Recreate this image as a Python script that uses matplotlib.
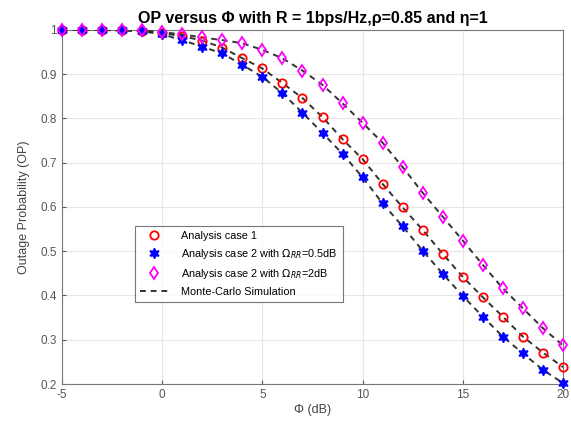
import matplotlib
matplotlib.use("Agg")
import matplotlib.pyplot as plt

plt.rcParams["font.family"] = ["Liberation Sans", "DejaVu Sans"]
plt.rcParams["axes.unicode_minus"] = False

# SNR grid (dB)
phi_db = list(range(-5, 21))

# Analysis case 1
op_case1 = [1.0, 1.0, 1.0, 0.999, 0.998, 0.993, 0.986, 0.976, 0.960, 0.936,
            0.913, 0.880, 0.846, 0.803, 0.753, 0.708, 0.652, 0.599, 0.548,
            0.494, 0.442, 0.396, 0.352, 0.307, 0.271, 0.238]
# Analysis case 2 with Omega_RR = 0.5 dB
op_case2_05 = [1.0, 1.0, 1.0, 0.999, 0.997, 0.990, 0.977, 0.962, 0.947,
               0.921, 0.894, 0.857, 0.813, 0.767, 0.720, 0.667, 0.608, 0.556,
               0.501, 0.449, 0.399, 0.352, 0.307, 0.269, 0.232, 0.202]
# Analysis case 2 with Omega_RR = 2 dB
op_case2_2 = [1.0, 1.0, 1.0, 1.0, 0.999, 0.995, 0.990, 0.983, 0.977, 0.970,
              0.955, 0.936, 0.908, 0.876, 0.834, 0.790, 0.745, 0.690, 0.632,
              0.578, 0.524, 0.469, 0.416, 0.371, 0.326, 0.287]

fig = plt.figure(figsize=(5.71, 4.28), dpi=100)
ax = fig.add_axes([0.1086, 0.1028, 0.8774, 0.8272])

ax.plot(phi_db, op_case1, "o", color="red", mfc="none", ms=6, mew=1.3,
        clip_on=False, zorder=4, label="Analysis case 1")
ax.plot(phi_db, op_case2_05, marker=(6, 1, 0), ls="none", color="blue",
        ms=7.5, mew=1.0, clip_on=False, zorder=4,
        label=r"Analysis case 2 with $\Omega_{RR}$=0.5dB")
ax.plot(phi_db, op_case2_2, "d", color="magenta", mfc="none", ms=6.5, mew=1.3,
        clip_on=False, zorder=4,
        label=r"Analysis case 2 with $\Omega_{RR}$=2dB")
ax.plot(phi_db, op_case1, "--", color="#333333", lw=1.4, dashes=(3, 2.5),
        zorder=3, label="Monte-Carlo Simulation")
ax.plot(phi_db, op_case2_05, "--", color="#333333", lw=1.4, dashes=(3, 2.5),
        zorder=3)
ax.plot(phi_db, op_case2_2, "--", color="#333333", lw=1.4, dashes=(3, 2.5),
        zorder=3)

ax.set_xlim(-5, 20)
ax.set_ylim(0.2, 1.0)
ax.set_xticks([-5, 0, 5, 10, 15, 20])
ax.set_yticks([0.2, 0.3, 0.4, 0.5, 0.6, 0.7, 0.8, 0.9, 1.0])
ax.set_yticklabels(["0.2", "0.3", "0.4", "0.5", "0.6", "0.7", "0.8", "0.9", "1"])
ax.tick_params(direction="in", labelsize=8.5, colors="#555555", length=3)
for s in ax.spines.values():
    s.set_color("#777777")
ax.grid(True, color="#e6e6e6", lw=0.8)
ax.set_axisbelow(True)

ax.set_xlabel("Φ (dB)", fontsize=9, color="#444444", labelpad=2)
ax.set_ylabel("Outage Probability (OP)", fontsize=9, color="#444444",
              labelpad=8)
ax.set_title("OP versus Φ with R = 1bps/Hz,ρ=0.85 and η=1", fontsize=11.5,
             fontweight="bold", pad=5)

leg = ax.legend(loc="lower left", bbox_to_anchor=(0.134, 0.215), fontsize=7.8,
                frameon=True, fancybox=False, edgecolor="#555555",
                borderpad=0.5, labelspacing=0.55, handlelength=2.6,
                handletextpad=1.2)
leg.get_frame().set_linewidth(0.8)

fig.savefig("out.png", dpi=100)
